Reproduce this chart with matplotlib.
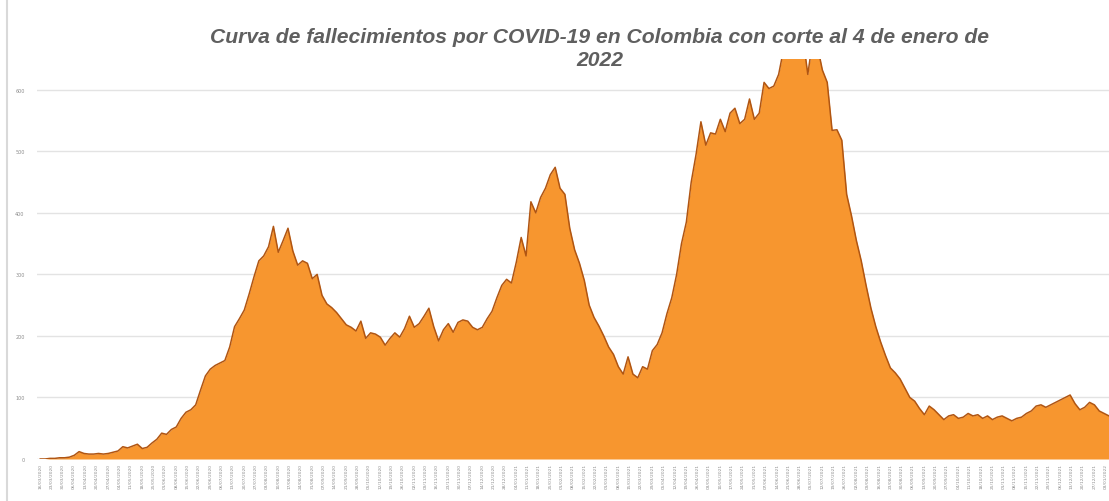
import numpy as np
import pandas as pd
import matplotlib
matplotlib.use("Agg")
import matplotlib.pyplot as plt
import matplotlib.dates as mdates

# daily deaths, read every 3 days starting 16/03/2020
start_date = "2020-03-16"
step_days = 3
deaths = [
    0, 0, 1, 1, 2, 2, 3, 6, 12, 9,
    8, 8, 9, 8, 9, 11, 13, 20, 18, 21,
    24, 17, 19, 26, 32, 42, 40, 48, 52, 66,
    76, 80, 88, 112, 135, 146, 152, 156, 160, 182,
    215, 228, 242, 268, 296, 322, 330, 345, 378, 336,
    355, 375, 338, 315, 322, 318, 293, 300, 266, 252,
    246, 238, 228, 218, 214, 208, 224, 196, 205, 203,
    198, 185, 196, 205, 198, 212, 232, 214, 220, 232,
    245, 215, 192, 210, 220, 206, 222, 226, 224, 214,
    210, 214, 228, 240, 262, 282, 292, 286, 320, 360,
    330, 418, 400, 425, 440, 462, 474, 440, 430, 375,
    340, 318, 290, 250, 230, 216, 200, 182, 170, 150,
    138, 166, 138, 132, 150, 146, 176, 186, 205, 236,
    262, 300, 350, 385, 450, 495, 548, 510, 530, 528,
    552, 532, 562, 570, 545, 552, 585, 552, 562, 612,
    602, 606, 625, 665, 680, 690, 690, 685, 625, 680,
    670, 632, 612, 534, 535, 518, 430, 395, 355, 322,
    282, 245, 215, 190, 168, 148, 140, 130, 115, 100,
    94, 82, 72, 86, 80, 72, 64, 70, 72, 66,
    68, 74, 70, 72, 66, 70, 64, 68, 70, 66,
    62, 66, 68, 74, 78, 86, 88, 84, 88, 92,
    96, 100, 104, 90, 80, 84, 92, 88, 78, 74,
    70,
]
y_ticks = [0, 100, 200, 300, 400, 500, 600]
title = "Curva de fallecimientos por COVID-19 en Colombia con corte al 4 de enero de\n2022"

dates = pd.date_range(start=start_date, periods=len(deaths), freq=f"{step_days}D")
tick_dates = pd.date_range(start=start_date, end=dates[-1], freq="7D")

fig = plt.figure(figsize=(11.09, 5.02), dpi=100)
ax = fig.add_axes([37 / 1109, 1 - 460 / 502, 1 - 37 / 1109, 400 / 502])

ax.fill_between(dates, deaths, 0, color="#f7962f", linewidth=0)
ax.plot(dates, deaths, color="#b05512", linewidth=1.1)

ax.set_ylim(0, 650)
ax.set_xlim(dates[0] - pd.Timedelta(days=2), dates[-1])
ax.set_yticks(y_ticks)
ax.set_yticklabels([str(v) for v in y_ticks], fontsize=3.5, color="#8c8c8c")
ax.set_xticks(tick_dates)
ax.xaxis.set_major_formatter(mdates.DateFormatter("%d/%m/%Y"))
ax.tick_params(axis="x", labelrotation=90, labelsize=3.2, labelcolor="#8c8c8c", length=0, pad=3)
ax.tick_params(axis="y", length=0, pad=9)
ax.grid(axis="y", color="#e3e3e3", linewidth=1)
ax.set_axisbelow(True)
for s in ax.spines.values():
    s.set_visible(False)

# faint border line at the left edge of the picture
fig.add_artist(plt.Line2D([7 / 1109, 7 / 1109], [0, 1], color="#d9d9d9", linewidth=1.5))

fig.text(600 / 1109, 1 - 28 / 502, title, ha="center", va="top", ma="center",
         fontsize=15.2, fontweight="bold", fontstyle="italic", color="#5f5f5f",
         family=["Liberation Sans", "DejaVu Sans"], linespacing=1.25)

fig.savefig("out.png", dpi=100)
